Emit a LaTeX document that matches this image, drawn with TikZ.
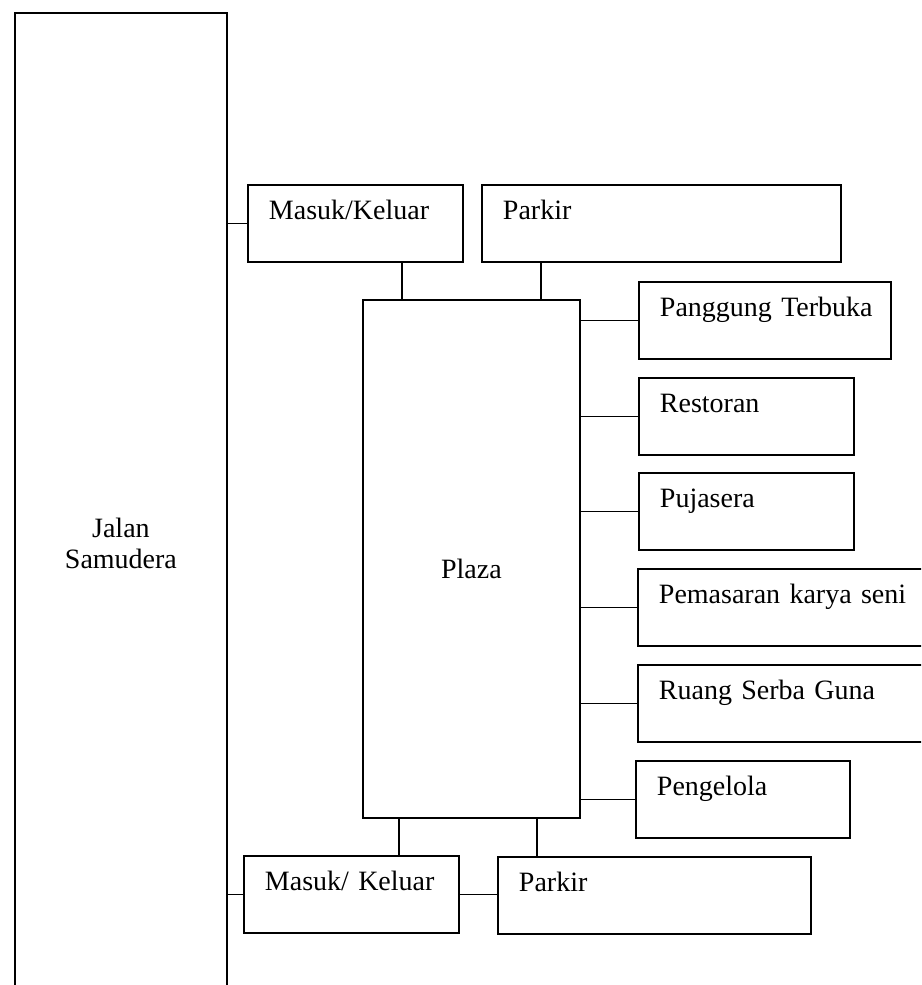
\documentclass[tikz,border=0pt]{standalone}
\usepackage{fontspec}
\setmainfont{Liberation Serif}
\tikzset{
  thickline/.style={line width=1.4pt},
  room/.style={draw, thickline, anchor=north west, minimum width=#1*0.75pt,
    text width=#1*0.75pt, minimum height=57.75pt, inner xsep=0pt,
    inner ysep=0pt, text height=15pt, text depth=20.25pt, align=left,
    execute at begin node={\hskip15.75pt}},
}
\begin{document}
\begin{tikzpicture}[x=0.75pt, y=-0.75pt, font=\fontsize{21}{24}\selectfont]
\clip (0,0) rectangle (921,985);
% the road, its lower end runs off the page
\node[draw, thickline, anchor=north west, minimum width=159pt, minimum height=795pt,
  align=center, font=\fontsize{21}{23.25}\selectfont] (jalan) at (14,12) {Jalan\\Samudera};
% central plaza
\node[draw, thickline, anchor=north west, minimum width=162.75pt, minimum height=388.5pt,
  text height=30pt, text depth=0pt] (plaza) at (362,299) {Plaza};
% top row
\node[room=215] (mk1) at (247,184) {Masuk/Keluar};
\node[room=359] (pk1) at (481,184) {Parkir};
% right column
\node[room=252] (pt) at (638,281) {Panggung Terbuka};
\node[room=215] (rs) at (638,377) {Restoran};
\node[room=215] (pj) at (638,472) {Pujasera};
\node[room=300] (pm) at (637,568) {Pemasaran karya seni};
\node[room=300] (rg) at (637,664) {Ruang Serba Guna};
\node[room=214] (pg) at (635,760) {Pengelola};
% bottom row
\node[room=215] (mk2) at (243,855) {Masuk/ Keluar};
\node[room=313] (pk2) at (497,856) {Parkir};
% links
\coordinate (a1) at (402,0);
\coordinate (a2) at (541,0);
\coordinate (b1) at (399,0);
\coordinate (b2) at (537,0);
\draw[thickline] (jalan.east |- mk1.west) -- (mk1.west);
\draw[thickline] (jalan.east |- mk2.west) -- (mk2.west);
\draw[thickline] (mk2.east) -- (mk2.east -| pk2.west);
\draw[thickline] (a1 |- mk1.south) -- (a1 |- plaza.north);
\draw[thickline] (a2 |- pk1.south) -- (a2 |- plaza.north);
\draw[thickline] (b1 |- plaza.south) -- (b1 |- mk2.north);
\draw[thickline] (b2 |- plaza.south) -- (b2 |- pk2.north);
\foreach \r in {pt,rs,pj,pm,rg,pg}
  \draw[thickline] (plaza.east |- \r.west) -- (\r.west);
\end{tikzpicture}
\end{document}
